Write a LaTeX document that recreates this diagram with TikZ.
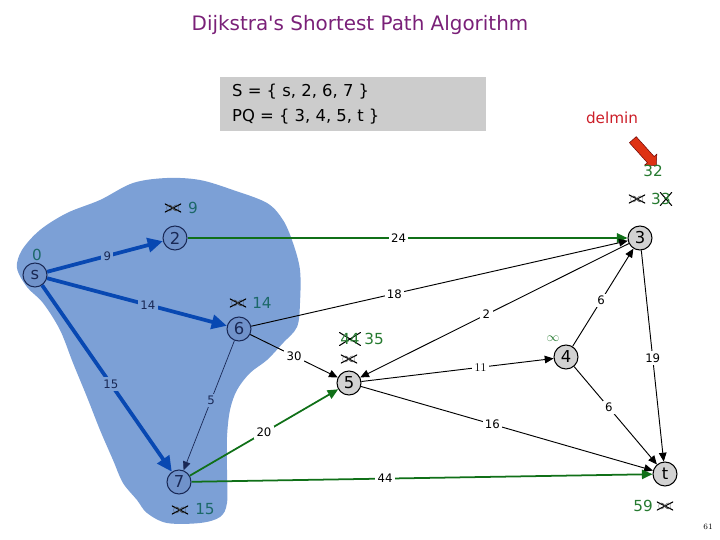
\documentclass[tikz,border=0pt]{standalone}
\usepackage{fontspec}
\usepackage{tikz}
\usetikzlibrary{arrows.meta, shapes.arrows}
\newfontfamily\dejavu{DejaVu Sans}
\definecolor{blobblue}{RGB}{124,160,214}
\definecolor{donefill}{RGB}{112,146,202}
\definecolor{navy}{RGB}{25,40,85}
\definecolor{pathblue}{RGB}{8,72,178}
\definecolor{nodegray}{RGB}{210,210,210}
\definecolor{edgegreen}{RGB}{16,112,24}
\definecolor{distgreen}{RGB}{38,122,48}
\definecolor{distteal}{RGB}{28,104,104}
\definecolor{titlepurple}{RGB}{122,32,120}
\definecolor{boxgray}{RGB}{204,204,204}
\definecolor{delred}{RGB}{204,30,40}
\definecolor{arrowred}{RGB}{222,50,20}

\begin{document}
\begin{tikzpicture}[x=0.03cm, y=-0.03cm,
    vertex/.style={circle, draw=black, fill=nodegray, line width=0.9pt, minimum size=0.72cm, inner sep=0pt, font=\dejavu\fontsize{14}{14}\selectfont},
    done/.style={vertex, draw=navy, fill=donefill, text=navy},
    tree/.style={-{Triangle[length=13pt,width=12pt]}, line width=3.2pt, draw=pathblue},
    relax/.style={-{Triangle[length=7.5pt,width=6.5pt]}, line width=0.8pt, draw=black},
    best/.style={-{Triangle[length=9pt,width=8pt]}, line width=1.5pt, draw=edgegreen},
    wt/.style={fill=white, inner sep=2pt, font=\dejavu\fontsize{10}{10}\selectfont},
    wtin/.style={wt, fill=blobblue, text=navy},
    dist/.style={text=distgreen, inner sep=1pt, font=\dejavu\fontsize{13}{13}\selectfont},
    distin/.style={dist, text=distteal},
    struck/.style={inner sep=1pt, text=black!75, font=\fontsize{12}{12}\selectfont,
        path picture={\draw[black, line width=0.9pt]
            (path picture bounding box.south west) -- (path picture bounding box.north east)
            (path picture bounding box.north west) -- (path picture bounding box.south east);}}
]
    \useasboundingbox (0,0) rectangle (720,540);

    % visited set
    \fill[blobblue] plot[smooth cycle, tension=0.55] coordinates {
        (17,268) (22,250) (40,230) (67,213) (100,200) (133,183) (167,178) (200,180)
        (233,190) (267,203) (283,220) (293,243) (300,270) (300,303) (297,327) (283,343)
        (267,360) (250,373) (237,390) (230,410) (227,437) (227,470) (227,503) (220,517)
        (200,523) (167,523) (147,513) (137,500) (123,483) (113,460) (100,430) (87,397)
        (73,363) (60,330) (43,303) (27,287)};

    % header
    \node[text=titlepurple, font=\dejavu\fontsize{17}{17}\selectfont] (title) at (360,25) {Dijkstra's Shortest Path Algorithm};
    \node[fill=boxgray, minimum width=7.98cm, minimum height=1.62cm, inner sep=0pt] (setbox) at (353,104) {};
    \node[anchor=west, font=\dejavu\fontsize{14}{14}\selectfont] (sset) at (228,92) {S = \{ s, 2, 6, 7 \}};
    \node[anchor=west, font=\dejavu\fontsize{14}{14}\selectfont] (pqset) at (228,117) {PQ = \{ 3, 4, 5, t \}};

    \node[text=delred, font=\dejavu\fontsize{13}{13}\selectfont] (delmin) at (612,118) {delmin};
    \node[single arrow, draw=black!60!red, fill=arrowred, minimum height=1.05cm, inner xsep=0pt, inner ysep=0.13cm,
          single arrow head extend=0.11cm, rotate=-48] (ptr) at (643,151) {};

    % vertices
    \node[done] (s) at (35,275) {s};
    \node[done] (n2) at (175,238) {2};
    \node[done] (n6) at (239,329) {6};
    \node[done] (n7) at (179,482) {7};
    \node[vertex] (n3) at (640,238) {3};
    \node[vertex] (n5) at (349,383) {5};
    \node[vertex] (n4) at (566,357) {4};
    \node[vertex] (t) at (665,474) {t};

    % edges
    \draw[tree] (s) -- node[wtin, pos=.52] {9} (n2);
    \draw[tree] (s) -- node[wtin, pos=.56] {14} (n6);
    \draw[tree] (s) -- node[wtin, pos=.53] {15} (n7);
    \draw[relax, draw=navy, line width=0.6pt] (n6) -- node[wtin, pos=.46] {5} (n7);
    \draw[best] (n2) -- node[wt, pos=.48] {24} (n3);
    \draw[relax] (n6) -- node[wt, pos=.38] {18} (n3);
    \draw[relax] (n6) -- node[wt, pos=.5] {30} (n5);
    \draw[relax] (n3) -- node[wt, pos=.53] {2} (n5);
    \draw[relax] (n5) -- node[wt, pos=.62, font=\rmfamily\fontsize{10}{10}\selectfont] {11} (n4);
    \draw[relax] (n4) -- node[wt, pos=.47] {6} (n3);
    \draw[relax] (n3) -- node[wt, pos=.51] {19} (t);
    \draw[relax] (n4) -- node[wt, pos=.42] {6} (t);
    \draw[relax] (n5) -- node[wt, pos=.45] {16} (t);
    \draw[best] (n7) -- node[wt, pos=.5] {20} (n5);
    \draw[best] (n7) -- node[wt, pos=.42] {44} (t);

    % distances
    \node[distin] (ds) at (37,255) {0};
    \node[struck] (x2) at (173,208) {$\infty$};
    \node[distin] (d2) at (193,208) {9};
    \node[struck] (x6) at (238,303) {$\infty$};
    \node[distin] (d6) at (262,303) {14};
    \node[struck] (x7) at (180,510) {$\infty$};
    \node[distin] (d7) at (205,509) {15};
    \node[struck, text=distgreen, font=\dejavu\fontsize{13}{13}\selectfont] (d5old) at (350,339) {44};
    \node[dist] (d5) at (374,339) {35};
    \node[struck] (x5) at (349,359) {$\infty$};
    \node[dist, text=distgreen, font=\fontsize{11}{11}\selectfont] (d4) at (553,339) {$\infty$};
    \node[dist] (d3) at (653,171) {32};
    \node[struck] (x3) at (637,199) {$\infty$};
    \node[dist] (d3a) at (656,199) {3};
    \node[struck, text=distgreen, font=\dejavu\fontsize{13}{13}\selectfont] (d3b) at (666,199) {3};
    \node[dist] (dt) at (643,506) {59};
    \node[struck] (xt) at (665,506) {$\infty$};

    \node[font=\fontsize{7}{7}\selectfont] (pg) at (708,527) {61};
\end{tikzpicture}
\end{document}
